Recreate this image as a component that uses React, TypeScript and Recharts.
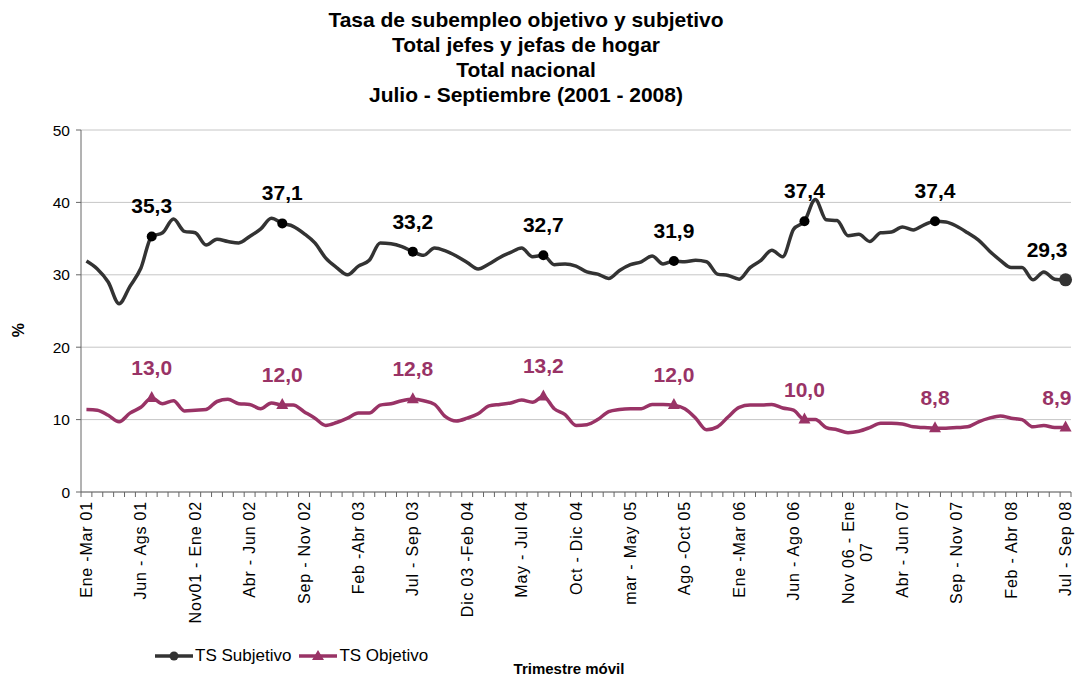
import React from 'react';
import { LineChart, Line, XAxis, YAxis, CartesianGrid, Legend, LabelList } from 'recharts';

const tickLabels = [
  'Ene -Mar 01',
  'Jun - Ags 01',
  'Nov01 - Ene 02',
  'Abr - Jun 02',
  'Sep - Nov 02',
  'Feb -Abr 03',
  'Jul - Sep 03',
  'Dic 03 -Feb 04',
  'May - Jul 04',
  'Oct - Dic 04',
  'mar - May 05',
  'Ago -Oct 05',
  'Ene -Mar 06',
  'Jun - Ago 06',
  'Nov 06 - Ene\n07',
  'Abr - Jun 07',
  'Sep - Nov 07',
  'Feb - Abr 08',
  'Jul - Sep 08',
];

// trimestres móviles, Ene-Mar 01 ... Jul-Sep 08
const subjetivo = [
  31.9, 30.8, 29.0, 26.0, 28.4, 30.9, 35.3, 35.8, 37.7, 36.0,
  35.8, 34.1, 34.9, 34.6, 34.4, 35.3, 36.3, 37.8, 37.1, 36.7,
  35.7, 34.4, 32.3, 31.0, 30.0, 31.2, 32.0, 34.4, 34.3, 33.9,
  33.2, 32.7, 33.7, 33.3, 32.6, 31.7, 30.8, 31.5, 32.4, 33.1,
  33.7, 32.5, 32.7, 31.4, 31.5, 31.2, 30.4, 30.1, 29.5, 30.6,
  31.4, 31.8, 32.6, 31.5, 31.9, 31.8, 32.0, 31.8, 30.1, 29.9,
  29.4, 31.0, 32.0, 33.4, 32.5, 36.3, 37.4, 40.4, 37.6, 37.5,
  35.4, 35.6, 34.6, 35.8, 35.9, 36.6, 36.2, 36.9, 37.4, 37.3,
  36.7, 35.8, 34.8, 33.3, 32.0, 31.0, 31.0, 29.3, 30.4, 29.4,
  29.3,
];

const objetivo = [
  11.4, 11.3, 10.6, 9.7, 10.9, 11.7, 13.0, 12.2, 12.6, 11.2,
  11.3, 11.4, 12.5, 12.8, 12.2, 12.1, 11.5, 12.3, 12.0, 12.0,
  11.1, 10.2, 9.2, 9.6, 10.2, 10.9, 10.9, 12.0, 12.2, 12.6,
  12.8, 12.6, 12.1, 10.4, 9.8, 10.2, 10.8, 11.9, 12.1, 12.3,
  12.7, 12.4, 13.2, 11.5, 10.7, 9.2, 9.3, 10.0, 11.1, 11.4,
  11.5, 11.5, 12.1, 12.1, 12.0, 11.5, 10.2, 8.6, 9.0, 10.4,
  11.7, 12.0, 12.0, 12.1, 11.6, 11.3, 10.0, 10.0, 8.9, 8.6,
  8.2, 8.4, 8.9, 9.5, 9.5, 9.4, 9.0, 8.9, 8.8, 8.8,
  8.9, 9.0, 9.7, 10.2, 10.5, 10.2, 10.0, 9.0, 9.2, 8.9,
  8.9,
];

const yTicks = [0, 10, 20, 30, 40, 50];

const data = subjetivo.map((s, i) => ({ periodo: i, subj: s, obj: objetivo[i] }));

const FONT = '"Liberation Sans", Arial, sans-serif';
const SUBJ = '#333333';
const OBJ = '#993366';
const PLOT_LEFT = 81;
const PLOT_RIGHT = 1071;
const BAND = (PLOT_RIGHT - PLOT_LEFT) / data.length;
const LAST = data.length - 1;

const fmt = (v: number) => v.toFixed(1).replace('.', ',');
// los valores rotulados son los de Jul - Sep de cada año
const isMarked = (i: number) => i % 12 === 6;

const XTick = (props: any) => {
  const { x, y, payload } = props;
  const i = payload.value as number;
  const axisY = y - 9;
  const parts = i % 5 === 0 ? tickLabels[i / 5].split('\n') : [];
  const txt = { fontSize: 16, fill: '#000', fontFamily: FONT, letterSpacing: 0.8 };
  return (
    <g>
      <line x1={x - BAND / 2} y1={axisY} x2={x - BAND / 2} y2={axisY + 5} stroke="#666" />
      {i === LAST && (
        <line x1={x + BAND / 2} y1={axisY} x2={x + BAND / 2} y2={axisY + 5} stroke="#666" />
      )}
      {parts.length > 0 && (
        <g transform={`translate(${x},${y}) rotate(-90)`}>
          <text x={0} y={0} dy="0.35em" textAnchor="end" {...txt}>
            {parts[0]}
          </text>
          {parts[1] && (
            <text x={-51} y={18} dy="0.35em" textAnchor="middle" {...txt}>
              {parts[1]}
            </text>
          )}
        </g>
      )}
    </g>
  );
};

const subjDot = (props: any) => {
  const { cx, cy, index } = props;
  if (!isMarked(index)) return null;
  if (index === LAST) return <circle key={`sd-${index}`} cx={cx} cy={cy} r={6.5} fill={SUBJ} />;
  return <circle key={`sd-${index}`} cx={cx} cy={cy} r={5} fill="#000" />;
};

const objDot = (props: any) => {
  const { cx, cy, index } = props;
  if (!isMarked(index)) return null;
  return (
    <polygon
      key={`od-${index}`}
      points={`${cx},${cy - 7} ${cx + 6},${cy + 4} ${cx - 6},${cy + 4}`}
      fill={OBJ}
    />
  );
};

const makeLabel = (color: string, lastShift: number) => (props: any) => {
  const { x, y, value, index } = props;
  if (!isMarked(index)) return null;
  const last = index === LAST;
  return (
    <text
      x={last ? x + lastShift : x}
      y={y - 23}
      textAnchor={last ? 'end' : 'middle'}
      fontSize={21}
      fontWeight="bold"
      fill={color}
      fontFamily={FONT}>
      {fmt(value)}
    </text>
  );
};

const renderLegend = () => (
  <div style={{ display: 'flex', alignItems: 'center', fontFamily: FONT, fontSize: 17, color: '#000' }}>
    <svg width={38} height={14}>
      <line x1={0} y1={7} x2={38} y2={7} stroke={SUBJ} strokeWidth={3.5} />
      <circle cx={19} cy={7} r={4.5} fill={SUBJ} />
    </svg>
    <span style={{ marginLeft: 2, marginRight: 8 }}>TS Subjetivo</span>
    <svg width={38} height={14}>
      <line x1={0} y1={7} x2={38} y2={7} stroke={OBJ} strokeWidth={3.5} />
      <polygon points="19,1 25,11 13,11" fill={OBJ} />
    </svg>
    <span style={{ marginLeft: 2 }}>TS Objetivo</span>
  </div>
);

const PercentLabel = (props: any) => {
  const { viewBox } = props;
  const cy = viewBox.y + viewBox.height / 2 + 19;
  return (
    <text
      x={18}
      y={cy}
      transform={`rotate(-90, 18, ${cy})`}
      textAnchor="middle"
      dy="0.35em"
      fontSize={16}
      fontWeight="bold"
      fill="#000"
      fontFamily={FONT}>
      %
    </text>
  );
};

export default function App() {
  return (
    <div
      style={{
        position: 'absolute',
        left: 0,
        top: 0,
        width: 1080,
        height: 679,
        background: '#fff',
        fontFamily: FONT,
      }}>
      <div
        style={{
          position: 'absolute',
          left: 0,
          top: 7,
          width: 1052,
          textAlign: 'center',
          fontWeight: 'bold',
          fontSize: 21,
          lineHeight: '25px',
          color: '#000',
        }}>
        <div>Tasa de subempleo objetivo y subjetivo</div>
        <div>Total jefes y jefas de hogar</div>
        <div>Total nacional</div>
        <div>Julio - Septiembre (2001 - 2008)</div>
      </div>
      <LineChart
        width={1080}
        height={679}
        data={data}
        margin={{ top: 130, right: 9, left: 0, bottom: 37 }}>
        <CartesianGrid vertical={false} stroke="#c6c6c6" />
        <XAxis
          dataKey="periodo"
          type="category"
          interval={0}
          height={150}
          tickLine={false}
          tickSize={5}
          tickMargin={4}
          padding={{ left: BAND / 2, right: BAND / 2 }}
          axisLine={{ stroke: '#666' }}
          tick={(p: any) => <XTick {...p} />}
        />
        <YAxis
          domain={[0, 50]}
          ticks={yTicks}
          width={PLOT_LEFT}
          tickSize={5}
          tickMargin={6}
          axisLine={{ stroke: '#666' }}
          tickLine={{ stroke: '#666' }}
          tick={{ fontSize: 15.5, fill: '#000', fontFamily: FONT }}
          label={<PercentLabel />}
        />
        <YAxis
          yAxisId="borde"
          orientation="right"
          domain={[0, 50]}
          width={0}
          tick={false}
          tickLine={false}
          axisLine={{ stroke: '#a6a6a6' }}
        />
        <Line
          dataKey="subj"
          name="TS Subjetivo"
          type="monotone"
          stroke={SUBJ}
          strokeWidth={3.5}
          dot={subjDot}
          activeDot={false}
          isAnimationActive={false}>
          <LabelList dataKey="subj" content={makeLabel('#000', 2)} />
        </Line>
        <Line
          dataKey="obj"
          name="TS Objetivo"
          type="monotone"
          stroke={OBJ}
          strokeWidth={3.5}
          dot={objDot}
          activeDot={false}
          isAnimationActive={false}>
          <LabelList dataKey="obj" content={makeLabel(OBJ, 6)} />
        </Line>
        <Legend
          layout="horizontal"
          verticalAlign="middle"
          align="center"
          content={renderLegend}
          wrapperStyle={{ left: 155, top: 646, width: 320 }}
        />
      </LineChart>
      <div
        style={{
          position: 'absolute',
          left: 469,
          top: 660,
          width: 200,
          textAlign: 'center',
          fontWeight: 'bold',
          fontSize: 15,
          color: '#000',
        }}>
        Trimestre móvil
      </div>
    </div>
  );
}
